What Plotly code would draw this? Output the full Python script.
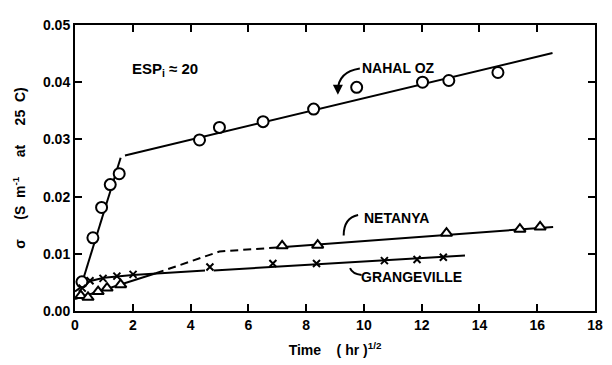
import plotly.graph_objects as go

# ---- data ----
nahal_x = [0.24, 0.62, 0.92, 1.22, 1.53, 4.31, 5.00, 6.51, 8.26, 9.75, 12.03, 12.94, 14.64]
nahal_y = [0.0051, 0.0128, 0.0181, 0.0221, 0.0240, 0.0299, 0.0321, 0.0331, 0.0353, 0.0391, 0.0400, 0.0403, 0.0417]

netanya_x = [0.20, 0.45, 0.80, 1.11, 1.58, 7.17, 8.40, 12.86, 15.40, 16.10]
netanya_y = [0.0027, 0.0024, 0.0034, 0.0040, 0.0046, 0.0114, 0.0115, 0.0136, 0.0143, 0.0147]

grange_x = [0.25, 0.52, 0.97, 1.45, 2.01, 4.67, 6.85, 8.36, 10.71, 11.84, 12.75]
grange_y = [0.0040, 0.0053, 0.0057, 0.0061, 0.0064, 0.0077, 0.0083, 0.0083, 0.0088, 0.0090, 0.0094]

# hand-fitted lines
nahal_fit1_x = [0.20, 1.58]
nahal_fit1_y = [0.0042, 0.0268]
nahal_fit2_x = [1.73, 16.53]
nahal_fit2_y = [0.0272, 0.0451]

netanya_fit1_x = [0.0, 1.6, 2.8]
netanya_fit1_y = [0.0021, 0.0046, 0.0066]
netanya_dash_x = [2.8, 5.0, 7.0]
netanya_dash_y = [0.0066, 0.0104, 0.0111]
netanya_fit2_x = [7.0, 16.55]
netanya_fit2_y = [0.0111, 0.0147]

grange_fit1_x = [0.0, 0.5, 1.0, 2.0, 4.5]
grange_fit1_y = [0.0034, 0.0052, 0.0058, 0.0063, 0.0071]
grange_fit2_x = [4.8, 13.5]
grange_fit2_y = [0.0071, 0.0097]

x_ticks = [0, 2, 4, 6, 8, 10, 12, 14, 16, 18]
y_ticks = [0.00, 0.01, 0.02, 0.03, 0.04, 0.05]

FONT = "Liberation Sans"

fig = go.Figure()

def add_line(x, y, dash="solid"):
    fig.add_trace(go.Scatter(x=x, y=y, mode="lines", line=dict(color="black", width=2, dash=dash),
                             showlegend=False, hoverinfo="skip"))

add_line(nahal_fit1_x, nahal_fit1_y)
add_line(nahal_fit2_x, nahal_fit2_y)
add_line(netanya_fit1_x, netanya_fit1_y)
add_line(netanya_dash_x, netanya_dash_y, dash="8px,5px")
add_line(netanya_fit2_x, netanya_fit2_y)
add_line(grange_fit1_x, grange_fit1_y)
add_line(grange_fit2_x, grange_fit2_y)

fig.add_trace(go.Scatter(x=nahal_x, y=nahal_y, mode="markers", name="Nahal Oz",
                         marker=dict(symbol="circle", size=11, color="white",
                                     line=dict(color="black", width=2)), showlegend=False))
fig.add_trace(go.Scatter(x=netanya_x, y=netanya_y, mode="markers", name="Netanya",
                         marker=dict(symbol="triangle-up", size=10, color="white",
                                     line=dict(color="black", width=2)), showlegend=False))
fig.add_trace(go.Scatter(x=grange_x, y=grange_y, mode="markers", name="Grangeville",
                         marker=dict(symbol="x-thin", size=7, color="black",
                                     line=dict(color="black", width=2)), showlegend=False))

# labels
lab = dict(family=FONT, size=14, color="black", weight="bold")
fig.add_annotation(x=3.1, y=0.0423, text="ESP<sub>i</sub> ≈ 20", showarrow=False,
                   font=dict(family=FONT, size=15, color="black", weight="bold"))
fig.add_annotation(x=11.2, y=0.0425, text="NAHAL OZ", showarrow=False, font=lab)
fig.add_annotation(x=11.12, y=0.0163, text="NETANYA", showarrow=False, font=lab)
fig.add_annotation(x=11.65, y=0.0060, text="GRANGEVILLE", showarrow=False, font=lab)

# curved pointers
fig.add_shape(type="path", path="M 9.86 0.0424 Q 9.10 0.0418 9.10 0.0385",
              line=dict(color="black", width=2))
fig.add_annotation(x=9.10, y=0.0378, ax=9.10, ay=0.0390, axref="x", ayref="y",
                   showarrow=True, arrowhead=2, arrowsize=1, arrowwidth=2, arrowcolor="black", text="")
fig.add_shape(type="path", path="M 9.80 0.0168 Q 9.30 0.0163 9.30 0.0132",
              line=dict(color="black", width=2))
fig.add_shape(type="path", path="M 9.92 0.0063 Q 9.60 0.0065 9.52 0.0075",
              line=dict(color="black", width=2))

axis_common = dict(showline=True, linecolor="black", linewidth=2, mirror="ticks",
                   ticks="inside", ticklen=7, tickwidth=2, tickcolor="black",
                   showgrid=False, zeroline=False,
                   tickfont=dict(family=FONT, size=14, color="black", weight="bold"))

fig.update_xaxes(range=[0, 18], tickvals=x_ticks, ticktext=[str(v) for v in x_ticks],
                 title=dict(text="Time    ( hr )<sup>1/2</sup>",
                            font=dict(family=FONT, size=14, color="black", weight="bold"),
                            standoff=13),
                 **axis_common)
fig.update_yaxes(range=[0, 0.05], tickvals=y_ticks, tickformat=".2f",
                 title=dict(text="σ     (S  m<sup>-1</sup>     at     25  C)",
                            font=dict(family=FONT, size=14, color="black", weight="bold"),
                            standoff=14),
                 **axis_common)

# the page body adds an 8px offset, so the figure is sized to fit inside the window
fig.update_layout(width=604, height=357, plot_bgcolor="white", paper_bgcolor="white",
                  margin=dict(l=67, r=9, t=9, b=54), showlegend=False)

fig.write_html("out.html")
